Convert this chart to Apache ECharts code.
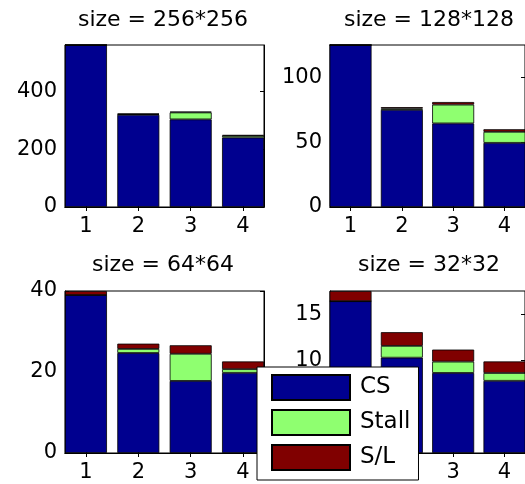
<!DOCTYPE html>
<html>
<head>
<meta charset="utf-8">
<script src="https://cdn.jsdelivr.net/npm/echarts@6/dist/echarts.min.js"></script>
<style>
  html, body { margin: 0; padding: 0; background: #fff; }
  #chart { width: 525px; height: 484px; }
</style>
</head>
<body>
<div id="chart"></div>
<script>
// Bar positions and panel titles
const categories = [1, 2, 3, 4];
const panelTitles = ['size = 256*256', 'size = 128*128', 'size = 64*64', 'size = 32*32'];
const seriesNames = ['CS', 'Stall', 'S/L'];

// 256*256
const cs256 = [562, 320, 304, 241];
const stall256 = [0, 2, 24, 6];
const sl256 = [0, 2, 3, 3];
const yTicks256 = [0, 200, 400];

// 128*128
const cs128 = [125, 75, 64.5, 49.5];
const stall128 = [0, 1, 14.5, 8.5];
const sl128 = [0, 1, 2, 2];
const yTicks128 = [0, 50, 100];

// 64*64
const cs64 = [39, 24.7, 17.8, 19.8];
const stall64 = [0, 1.0, 6.7, 0.9];
const sl64 = [1, 1.3, 2.1, 1.9];
const yTicks64 = [0, 20, 40];

// 32*32
const cs32 = [16.4, 10.3, 8.65, 7.8];
const stall32 = [0, 1.27, 1.22, 0.84];
const sl32 = [1.1, 1.48, 1.3, 1.25];
const yTicks32 = [0, 5, 10, 15];

const panels = [
  { title: panelTitles[0], cs: cs256, stall: stall256, sl: sl256, ticks: yTicks256 },
  { title: panelTitles[1], cs: cs128, stall: stall128, sl: sl128, ticks: yTicks128 },
  { title: panelTitles[2], cs: cs64, stall: stall64, sl: sl64, ticks: yTicks64 },
  { title: panelTitles[3], cs: cs32, stall: stall32, sl: sl32, ticks: yTicks32 }
];

const colors = ['#00008F', '#8FFF70', '#800000'];
const FONT = 'DejaVu Sans';

// Panel placement (px)
const gridBoxes = [
  { left: 65, top: 45, width: 199, height: 162, titleX: 163, titleY: 20 },
  { left: 330, top: 45, width: 199, height: 162, titleX: 429, titleY: 20 },
  { left: 65, top: 291, width: 199, height: 162, titleX: 163, titleY: 265 },
  { left: 330, top: 291, width: 199, height: 162, titleX: 429, titleY: 265 }
];

const X_MIN = 0.6, X_MAX = 4.4;
const unitPx = 199 / (X_MAX - X_MIN);
const barPx = Math.round(0.8 * unitPx);

const grid = [], xAxis = [], yAxis = [], series = [], graphic = [];

panels.forEach((p, i) => {
  const g = gridBoxes[i];
  grid.push({
    left: g.left, top: g.top, width: g.width, height: g.height,
    show: true, borderColor: '#000', borderWidth: 1, backgroundColor: '#fff'
  });
  const totals = categories.map((c, k) => p.cs[k] + p.stall[k] + p.sl[k]);
  const yMax = Math.max.apply(null, totals);

  const tickStyle = { show: true, inside: true, length: 4, lineStyle: { color: '#000', width: 1 } };

  // bottom and top x axes
  xAxis.push({
    type: 'value', gridIndex: i, min: X_MIN, max: X_MAX, position: 'bottom',
    splitLine: { show: false },
    axisLine: { show: true, lineStyle: { color: '#000', width: 1 } },
    axisTick: Object.assign({ customValues: categories }, tickStyle),
    axisLabel: {
      customValues: categories, margin: 9, color: '#000',
      fontFamily: FONT, fontSize: 21
    }
  });
  xAxis.push({
    type: 'value', gridIndex: i, min: X_MIN, max: X_MAX, position: 'top',
    splitLine: { show: false },
    axisLine: { show: true, lineStyle: { color: '#000', width: 1 } },
    axisTick: Object.assign({ customValues: categories }, tickStyle),
    axisLabel: { show: false }
  });
  // left and right y axes
  yAxis.push({
    type: 'value', gridIndex: i, min: 0, max: yMax, position: 'left',
    splitLine: { show: false },
    axisLine: { show: true, lineStyle: { color: '#000', width: 1 } },
    axisTick: Object.assign({ customValues: p.ticks }, tickStyle),
    axisLabel: {
      customValues: p.ticks, margin: 8, color: '#000',
      fontFamily: FONT, fontSize: 21
    }
  });
  yAxis.push({
    type: 'value', gridIndex: i, min: 0, max: yMax, position: 'right',
    splitLine: { show: false },
    axisLine: { show: true, lineStyle: { color: '#000', width: 1 } },
    axisTick: Object.assign({ customValues: p.ticks }, tickStyle),
    axisLabel: { show: false }
  });

  [p.cs, p.stall, p.sl].forEach((vals, s) => {
    series.push({
      type: 'bar',
      name: seriesNames[s],
      xAxisIndex: i * 2,
      yAxisIndex: i * 2,
      stack: 'panel' + i,
      barWidth: barPx,
      // value first so that the stack is summed along y
      data: categories.map((c, k) => [vals[k], c]),
      encode: { x: 1, y: 0 },
      itemStyle: { color: colors[s], borderColor: '#000', borderWidth: 0.8 },
      emphasis: { disabled: true },
      animation: false
    });
  });

  graphic.push({
    type: 'text', x: g.titleX, y: g.titleY,
    style: {
      text: p.title, fill: '#000', font: '22px "' + FONT + '"',
      textAlign: 'center', textVerticalAlign: 'middle'
    }
  });
});

const chart = echarts.init(document.getElementById('chart'), null, { renderer: 'canvas' });
chart.setOption({
  animation: false,
  backgroundColor: '#fff',
  grid, xAxis, yAxis, series, graphic,
  legend: {
    data: seriesNames,
    orient: 'vertical',
    left: 257, top: 367, height: 110,
    itemWidth: 78, itemHeight: 25, itemGap: 8,
    icon: 'rect',
    selectedMode: false,
    backgroundColor: '#fff',
    borderColor: '#000', borderWidth: 1,
    padding: [7, 8, 9, 14],
    textStyle: {
      color: '#000', fontFamily: FONT, fontSize: 23,
      padding: [0, 0, 0, 5]
    },
    z: 10
  }
});
</script>
</body>
</html>
